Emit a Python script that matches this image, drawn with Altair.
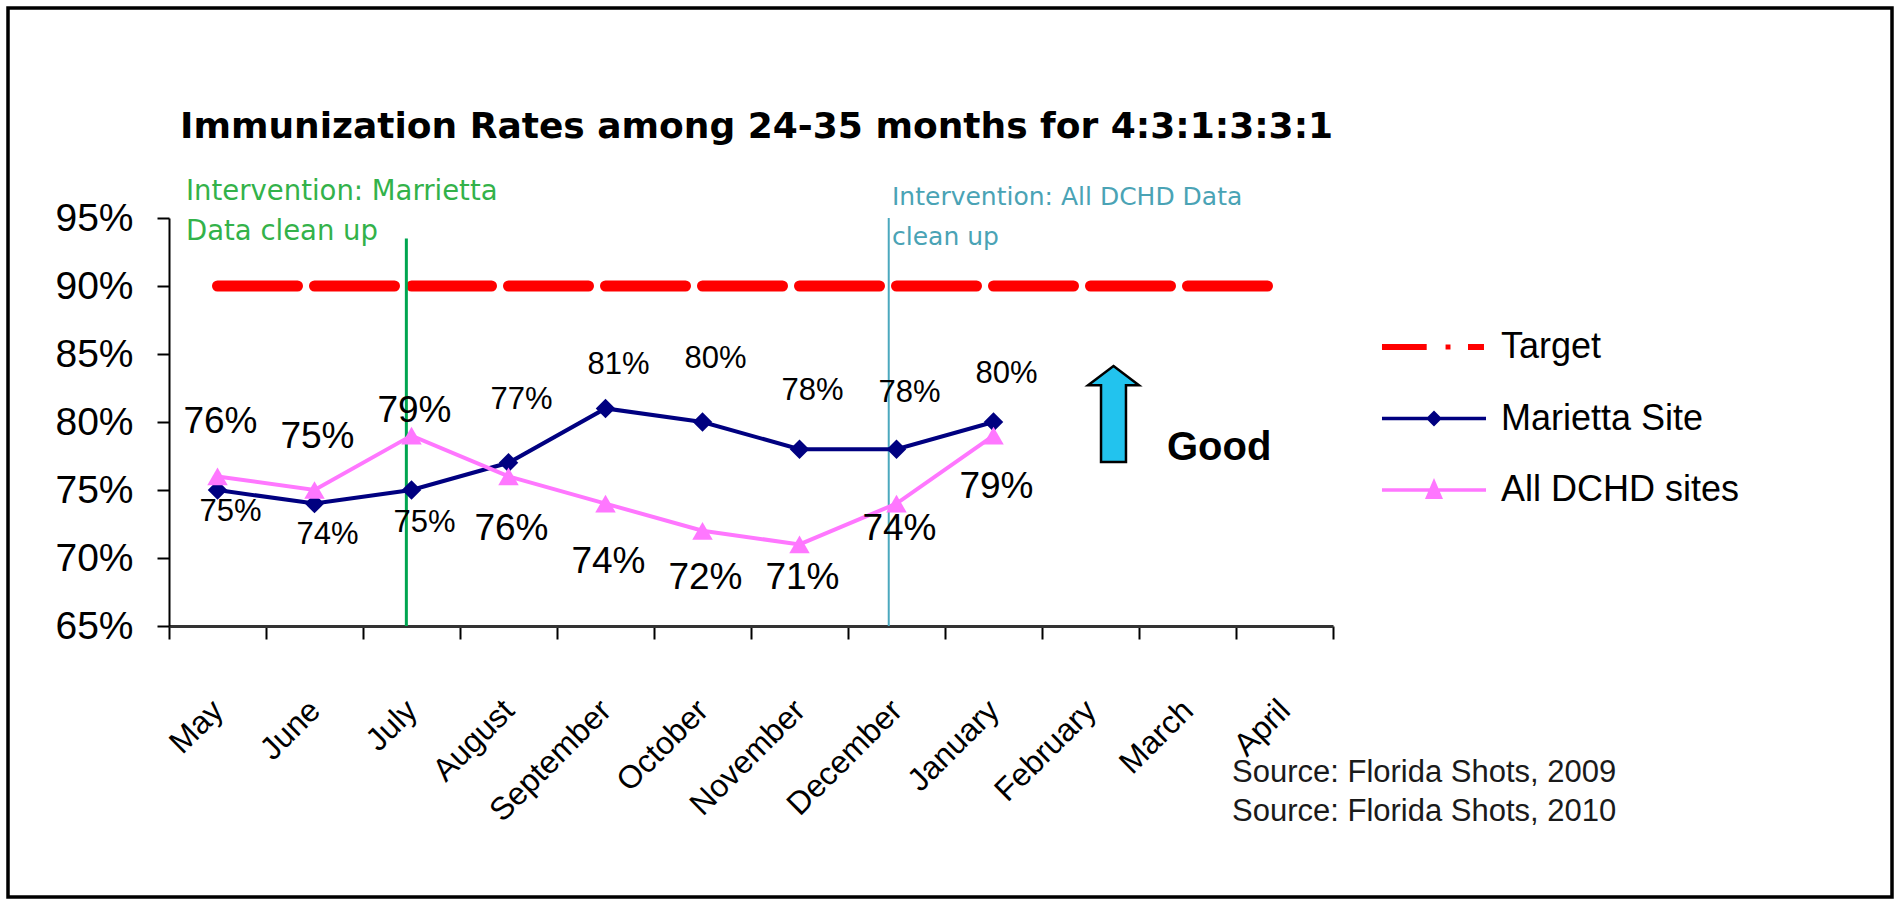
import altair as alt
import pandas as pd

# ---------------- data ----------------
months = ["May", "June", "July", "August", "September", "October",
          "November", "December", "January", "February", "March", "April"]
marietta = [75, 74, 75, 77, 81, 80, 78, 78, 80]
all_dchd = [76, 75, 79, 76, 74, 72, 71, 74, 79]
target = [90] * 12
# where each value label sits relative to its point (percentage points)
marietta_label_shift = [-1.6, -2.3, -2.4, 4.6, 3.2, 4.6, 4.3, 4.1, 3.5]
dchd_label_shift = [4.0, 3.9, 1.8, -3.9, -4.3, -3.5, -2.5, -1.9, -3.8]
y_ticks = [65, 70, 75, 80, 85, 90, 95]
series_names = ["Target", "Marietta Site", "All DCHD sites"]
series_colors = ["#FF0000", "#000080", "#FF77FF"]

title_text = "Immunization Rates among 24-35 months for 4:3:1:3:3:1"
green_note = ["Intervention: Marrietta", "Data clean up"]
teal_note = ["Intervention: All DCHD Data", "clean up"]
sources = ["Source: Florida Shots, 2009", "Source: Florida Shots, 2010"]

# ---------------- tables ----------------
df_target = pd.DataFrame({"month": months, "value": target})
df_m = pd.DataFrame({"month": months[:len(marietta)], "value": marietta})
df_m["label_y"] = [v + s for v, s in zip(marietta, marietta_label_shift)]
df_m["label"] = [f"{v}%" for v in marietta]
df_d = pd.DataFrame({"month": months[:len(all_dchd)], "value": all_dchd})
df_d["label_y"] = [v + s for v, s in zip(all_dchd, dchd_label_shift)]
df_d["label"] = [f"{v}%" for v in all_dchd]
df_green = pd.DataFrame({"month": ["July"], "top": [93.5], "bottom": [65]})
df_teal = pd.DataFrame({"month": ["December"], "top": [95], "bottom": [65]})
df_legend = pd.DataFrame({"series": series_names, "month": ["May"] * 3, "value": [90] * 3})
one = pd.DataFrame({"k": [0]})

W, H = 1164, 408
PAD = {"left": 169, "top": 218, "right": 1898 - 169 - W, "bottom": 900 - 218 - H}

x_scale = alt.Scale(type="band", domain=months, paddingInner=0, paddingOuter=0)
y_scale = alt.Scale(domain=[65, 95], nice=False, zero=False)
x_axis = alt.Axis(title=None, tickBand="extent", labelAngle=-45, labelAlign="right",
                  labelBaseline="middle", labelFont="Liberation Sans", labelFontSize=32,
                  labelColor="#000000", labelPadding=66, labelOffset=0, labelOverlap=False,
                  labelBound=False, labelFlush=False,
                  tickSize=13, tickColor="#000000", tickWidth=2,
                  domainColor="#333333", domainWidth=3, grid=False)
y_axis = alt.Axis(title=None, values=y_ticks, labelExpr="datum.value + '%'",
                  labelFont="Liberation Sans", labelFontSize=39, labelColor="#000000",
                  labelPadding=24, tickSize=12, tickColor="#000000", tickWidth=2,
                  domainColor="#000000", domainWidth=2, grid=False)

X = alt.X("month:N", scale=x_scale, axis=x_axis, sort=months)
Y = alt.Y("value:Q", scale=y_scale, axis=y_axis)

# frame around the whole picture
frame = alt.Chart(one).mark_rect(fill="white", fillOpacity=0, stroke="black", strokeWidth=3.5).encode(
    x=alt.value(-161), x2=alt.value(1723), y=alt.value(-210), y2=alt.value(679))

target_line = alt.Chart(df_target).mark_line(
    color=series_colors[0], strokeWidth=11, strokeDash=[80, 17], strokeCap="round").encode(x=X, y=Y)

green_rule = alt.Chart(df_green).mark_rule(color="#00A550", strokeWidth=3).encode(
    x=alt.X("month:N", scale=x_scale, axis=x_axis, sort=months, bandPosition=0.447),
    y=alt.Y("top:Q", scale=y_scale, axis=y_axis), y2="bottom:Q")
teal_rule = alt.Chart(df_teal).mark_rule(color="#4BA8BE", strokeWidth=2).encode(
    x=alt.X("month:N", scale=x_scale, axis=x_axis, sort=months, bandPosition=0.42),
    y=alt.Y("top:Q", scale=y_scale, axis=y_axis), y2="bottom:Q")

m_line = alt.Chart(df_m).mark_line(color=series_colors[1], strokeWidth=4).encode(x=X, y=Y)
m_pts = alt.Chart(df_m).mark_point(shape="diamond", filled=True, size=380, opacity=1,
                                   color=series_colors[1]).encode(x=X, y=Y)
d_line = alt.Chart(df_d).mark_line(color=series_colors[2], strokeWidth=4).encode(x=X, y=Y)
d_pts = alt.Chart(df_d).mark_point(shape="triangle-up", filled=True, size=420, opacity=1,
                                   color=series_colors[2]).encode(x=X, y=Y)

YL = alt.Y("label_y:Q", scale=y_scale, axis=y_axis)
m_lab = alt.Chart(df_m).mark_text(font="Liberation Sans", fontSize=31, color="#000000",
                                  dx=13, baseline="middle").encode(x=X, y=YL, text="label:N")
d_lab = alt.Chart(df_d).mark_text(font="Liberation Sans", fontSize=37, color="#000000",
                                  dx=3, baseline="middle").encode(x=X, y=YL, text="label:N")


def note(text, x, y, **kw):
    return alt.Chart(one).mark_text(text=text, align="left", baseline="alphabetic", **kw).encode(
        x=alt.value(x), y=alt.value(y))


title = note(title_text, 11, -80, font="DejaVu Sans", fontSize=36, fontWeight="bold", color="#000000")
g1 = note(green_note[0], 17, -18, font="DejaVu Sans", fontSize=27.5, color="#33B24A")
g2 = note(green_note[1], 17, 22, font="DejaVu Sans", fontSize=27.5, color="#33B24A")
t1 = note(teal_note[0], 723, -13, font="DejaVu Sans", fontSize=25, color="#4AA3B5")
t2 = note(teal_note[1], 723, 27, font="DejaVu Sans", fontSize=25, color="#4AA3B5")
good = note("Good", 998, 242, font="Liberation Sans", fontSize=40, fontWeight="bold", color="#000000")
s1 = note(sources[0], 1063, 564, font="Liberation Sans", fontSize=31, color="#1A1A1A")
s2 = note(sources[1], 1063, 603, font="Liberation Sans", fontSize=31, color="#1A1A1A")

arrow_path = "M0,-1L0.53,-0.6L0.26,-0.6L0.26,1L-0.26,1L-0.26,-0.6L-0.53,-0.6Z"
arrow = alt.Chart(one).mark_point(shape=arrow_path, size=9216, filled=True, fill="#22C3EE",
                                  stroke="black", strokeWidth=2.5, opacity=1).encode(
    x=alt.value(944.5), y=alt.value(196))

# legend symbols (units of 17 px)
legend_paths = [
    "M-3.06,-0.18H-0.43V0.18H-3.06Z M0.68,-0.15H0.97V0.15H0.68Z M2.0,-0.18H2.94V0.18H2.0Z",
    "M-3.06,-0.1H3.06V0.1H-3.06Z M0,-0.47L0.47,0L0,0.47L-0.47,0Z",
    "M-3.06,-0.1H3.06V0.1H-3.06Z M0,-0.71L0.53,0.53L-0.53,0.53Z",
]
leg = alt.Legend(title=None, orient="none", legendX=1247, legendY=111, padding=0,
                 symbolSize=1156, symbolOpacity=1, symbolStrokeWidth=0,
                 labelFont="Liberation Sans", labelFontSize=36, labelColor="#000000",
                 labelOffset=49, labelLimit=600, rowPadding=35.5)
legend_layer = alt.Chart(df_legend).mark_point(filled=True, opacity=0, size=1156).encode(
    x=X, y=Y,
    color=alt.Color("series:N", scale=alt.Scale(domain=series_names, range=series_colors), legend=leg),
    shape=alt.Shape("series:N", scale=alt.Scale(domain=series_names, range=legend_paths), legend=leg),
)

chart = alt.layer(
    frame, target_line, green_rule, teal_rule, m_line, m_pts, d_line, d_pts,
    m_lab, d_lab, title, g1, g2, t1, t2, good, s1, s2, arrow, legend_layer
).properties(
    width=W, height=H, padding=PAD, autosize=alt.AutoSizeParams(type="none"), background="white"
).configure_view(stroke=None)

chart.save("out.html", embed_options={"renderer": "svg", "actions": False})
